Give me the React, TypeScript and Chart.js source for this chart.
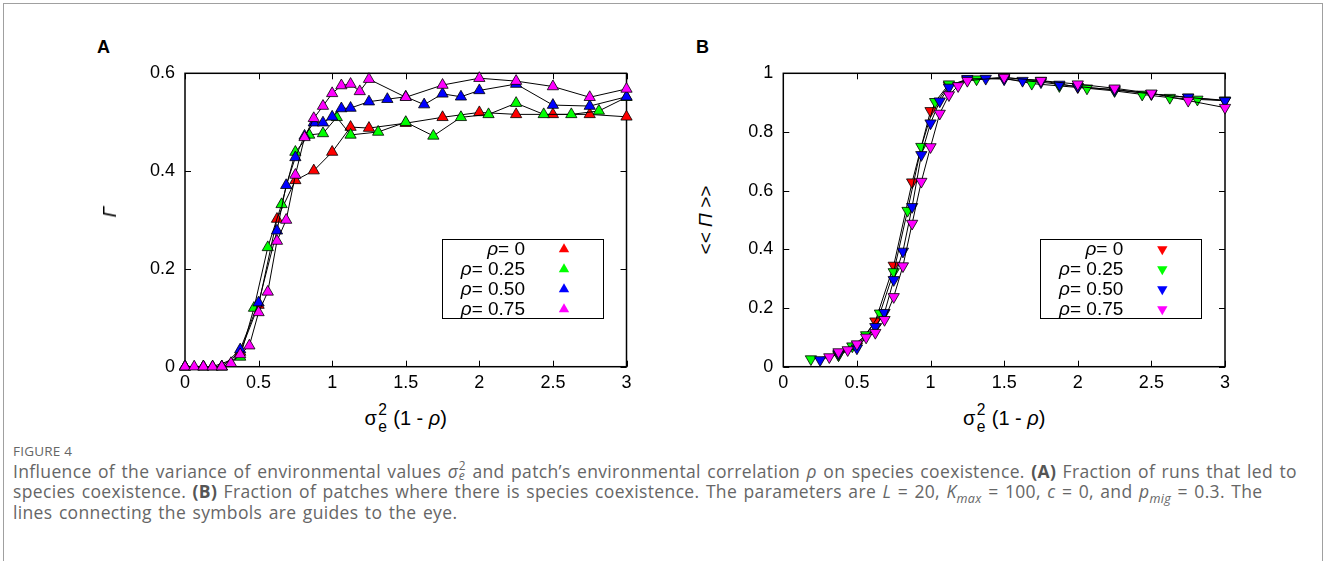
import React, { useEffect, useRef } from 'react';
import { Chart, registerables } from 'chart.js';

Chart.register(...registerables);

// ---------- data ----------
const xTickValues = [0, 0.5, 1, 1.5, 2, 2.5, 3];
const yTickValuesA = [0, 0.2, 0.4, 0.6];
const yTickValuesB = [0, 0.2, 0.4, 0.6, 0.8, 1];
const seriesLabels = ['ρ= 0', 'ρ= 0.25', 'ρ= 0.50', 'ρ= 0.75'];
const seriesColors = ['#ff0000', '#00ff00', '#0000ff', '#ff00ff'];

// Panel A: Γ
const redAX = [0, 0.125, 0.25, 0.375, 0.5, 0.625, 0.75, 0.875, 1.0, 1.125, 1.25, 1.5, 1.75, 2.0, 2.25, 2.5, 2.75, 3.0];
const redAY = [0, 0, 0, 0.03, 0.126, 0.302, 0.381, 0.401, 0.439, 0.49, 0.488, 0.498, 0.51, 0.52, 0.516, 0.516, 0.516, 0.511];

const greenAX = [0, 0.1875, 0.375, 0.46875, 0.5625, 0.65625, 0.75, 0.84375, 0.9375, 1.03125, 1.125, 1.3125, 1.5, 1.6875, 1.875, 2.0625, 2.25, 2.4375, 2.625, 2.8125, 3.0];
const greenAY = [0, 0, 0.02, 0.12, 0.244, 0.332, 0.439, 0.474, 0.477, 0.51, 0.474, 0.48, 0.5, 0.472, 0.51, 0.516, 0.539, 0.516, 0.516, 0.523, 0.551];

const blueAX = [0, 0.125, 0.25, 0.375, 0.5, 0.625, 0.6875, 0.75, 0.8125, 0.875, 0.9375, 1.0, 1.0625, 1.125, 1.25, 1.375, 1.5, 1.625, 1.75, 1.875, 2.0, 2.25, 2.5, 2.75, 3.0];
const blueAY = [0, 0, 0, 0.035, 0.131, 0.278, 0.371, 0.428, 0.472, 0.499, 0.499, 0.511, 0.528, 0.529, 0.542, 0.547, 0.552, 0.536, 0.558, 0.552, 0.565, 0.578, 0.535, 0.533, 0.552];

const magentaAX = [0, 0.0625, 0.125, 0.1875, 0.25, 0.3125, 0.375, 0.4375, 0.5, 0.5625, 0.625, 0.6875, 0.75, 0.8125, 0.875, 0.9375, 1.0, 1.0625, 1.125, 1.1875, 1.25, 1.5, 1.75, 2.0, 2.25, 2.5, 2.75, 3.0];
const magentaAY = [0, 0, 0, 0, 0, 0.007, 0.025, 0.043, 0.111, 0.153, 0.257, 0.3, 0.392, 0.469, 0.508, 0.533, 0.559, 0.575, 0.578, 0.563, 0.588, 0.551, 0.576, 0.59, 0.584, 0.573, 0.551, 0.568];

// Panel B: << Π >>
const redBX = [0.375, 0.5, 0.625, 0.75, 0.875, 1.0, 1.125, 1.25, 1.5, 1.75, 2.0, 2.25, 2.5, 2.75, 3.0];
const redBY = [0.04, 0.07, 0.155, 0.345, 0.629, 0.872, 0.958, 0.98, 0.985, 0.975, 0.953, 0.945, 0.93, 0.918, 0.908];

const greenBX = [0.1875, 0.375, 0.46875, 0.5625, 0.65625, 0.75, 0.84375, 0.9375, 1.03125, 1.125, 1.3125, 1.5, 1.6875, 1.875, 2.0625, 2.25, 2.4375, 2.625, 2.8125, 3.0];
const greenBY = [0.026, 0.04, 0.07, 0.108, 0.182, 0.323, 0.532, 0.75, 0.903, 0.963, 0.98, 0.983, 0.965, 0.957, 0.949, 0.94, 0.928, 0.917, 0.911, 0.907];

const blueBX = [0.25, 0.375, 0.5, 0.625, 0.6875, 0.75, 0.8125, 0.875, 0.9375, 1.0, 1.0625, 1.125, 1.25, 1.375, 1.5, 1.625, 1.75, 1.875, 2.0, 2.25, 2.5, 2.75, 3.0];
const blueBY = [0.023, 0.045, 0.063, 0.136, 0.184, 0.296, 0.393, 0.545, 0.722, 0.83, 0.905, 0.952, 0.981, 0.982, 0.98, 0.975, 0.97, 0.962, 0.955, 0.943, 0.93, 0.918, 0.906];

const magentaBX = [0.3125, 0.375, 0.4375, 0.5, 0.5625, 0.625, 0.6875, 0.75, 0.8125, 0.875, 0.9375, 1.0, 1.0625, 1.125, 1.1875, 1.25, 1.5, 1.75, 2.0, 2.25, 2.5, 2.75, 3.0];
const magentaBY = [0.033, 0.05, 0.057, 0.077, 0.1, 0.116, 0.16, 0.238, 0.343, 0.488, 0.631, 0.749, 0.863, 0.926, 0.957, 0.975, 0.986, 0.975, 0.963, 0.949, 0.932, 0.907, 0.883];

// ---------- styling ----------
const FONT = '"Liberation Sans", Arial, Helvetica, sans-serif';
const CAPTION_FONT = '"Open Sans", "Noto Sans", sans-serif';

const toPoints = (xs: number[], ys: number[]) => xs.map((x, i) => ({ x, y: ys[i] }));

const framePlugin = {
  id: 'gnuFrame',
  beforeDatasetsDraw(chart: any) {
    const { ctx, chartArea: a, scales } = chart;
    ctx.save();
    ctx.strokeStyle = '#000';
    ctx.lineWidth = 1.5;
    ctx.strokeRect(a.left, a.top, a.right - a.left, a.bottom - a.top);
    ctx.lineWidth = 1;
    const tl = 6;
    ctx.beginPath();
    scales.x.ticks.forEach((t: any) => {
      const px = Math.round(scales.x.getPixelForValue(t.value)) + 0.5;
      ctx.moveTo(px, a.bottom);
      ctx.lineTo(px, a.bottom - tl);
      ctx.moveTo(px, a.top);
      ctx.lineTo(px, a.top + tl);
    });
    scales.y.ticks.forEach((t: any) => {
      const py = Math.round(scales.y.getPixelForValue(t.value)) + 0.5;
      ctx.moveTo(a.left, py);
      ctx.lineTo(a.left + tl, py);
      ctx.moveTo(a.right, py);
      ctx.lineTo(a.right - tl, py);
    });
    ctx.stroke();
    ctx.restore();
  },
};

const legendPlugin = {
  id: 'gnuLegend',
  afterDatasetsDraw(chart: any, _args: any, opts: any) {
    if (!opts || !opts.enabled) return;
    const { ctx, chartArea: a } = chart;
    ctx.save();
    ctx.strokeStyle = '#000';
    ctx.lineWidth = 1;
    ctx.strokeRect(Math.round(a.left + opts.boxLeft) + 0.5, Math.round(a.top + opts.boxTop) + 0.5, opts.boxW, opts.boxH);
    chart.data.datasets.forEach((ds: any, i: number) => {
      const y = a.top + opts.rowTop + i * opts.rowStep;
      const label: string = ds.label;
      const rho = label.slice(0, 1);
      const rest = label.slice(1);
      const right = a.left + opts.textRight;
      ctx.textBaseline = 'middle';
      ctx.textAlign = 'left';
      ctx.fillStyle = '#000';
      ctx.font = `19px ${FONT}`;
      const restW = ctx.measureText(rest).width;
      ctx.fillText(rest, right - restW, y);
      ctx.font = `italic 19px ${FONT}`;
      const rhoW = ctx.measureText(rho).width;
      ctx.fillText(rho, right - restW - rhoW, y);
      const mx = a.left + opts.markerX;
      const r = 6;
      const dir = opts.inverted ? -1 : 1;
      ctx.beginPath();
      ctx.moveTo(mx, y - dir * r);
      ctx.lineTo(mx + r * 0.866, y + dir * r * 0.5);
      ctx.lineTo(mx - r * 0.866, y + dir * r * 0.5);
      ctx.closePath();
      ctx.fillStyle = ds.pointBackgroundColor;
      ctx.fill();
    });
    ctx.restore();
  },
};

type PanelProps = {
  left: number;
  top: number;
  width: number;
  height: number;
  series: { x: number[]; y: number[] }[];
  yMax: number;
  yTicks: number[];
  inverted: boolean;
  yAxisWidth: number;
  padTop: number;
  padRight: number;
  xAxisHeight: number;
  legend: any;
};

function Panel(p: PanelProps) {
  const ref = useRef<HTMLCanvasElement | null>(null);
  useEffect(() => {
    if (!ref.current) return;
    const datasets = p.series.map((s, i) => ({
      label: seriesLabels[i],
      data: toPoints(s.x, s.y),
      showLine: true,
      borderColor: '#000',
      borderWidth: 1,
      pointBackgroundColor: seriesColors[i],
      pointBorderColor: '#000',
      pointBorderWidth: 0.8,
      pointStyle: 'triangle',
      pointRadius: 6.5,
      pointHoverRadius: 6.5,
      pointRotation: p.inverted ? 180 : 0,
      clip: false,
      order: p.series.length - i,
      tension: 0,
    }));
    const tickFont = { family: FONT, size: 18 };
    const chart = new Chart(ref.current, {
      type: 'scatter',
      data: { datasets } as any,
      options: {
        animation: false,
        responsive: false,
        maintainAspectRatio: false,
        events: [],
        layout: { padding: { top: p.padTop, right: p.padRight, left: 0, bottom: 0 } },
        plugins: {
          legend: { display: false },
          tooltip: { enabled: false },
          gnuLegend: p.legend,
        } as any,
        scales: {
          x: {
            type: 'linear',
            min: 0,
            max: 3,
            afterBuildTicks: (s: any) => {
              s.ticks = xTickValues.map((v) => ({ value: v }));
            },
            afterFit: (s: any) => {
              s.height = p.xAxisHeight;
              s.paddingLeft = 0;
              s.paddingRight = 0;
              s.paddingTop = 0;
              s.paddingBottom = 0;
            },
            grid: { display: false, drawTicks: false },
            border: { display: false },
            ticks: {
              color: '#000',
              font: tickFont,
              padding: 6,
              maxRotation: 0,
              autoSkip: false,
              callback: (v: any) => String(v),
            },
          },
          y: {
            type: 'linear',
            min: 0,
            max: p.yMax,
            afterBuildTicks: (s: any) => {
              s.ticks = p.yTicks.map((v) => ({ value: v }));
            },
            afterFit: (s: any) => {
              s.width = p.yAxisWidth;
              s.paddingLeft = 0;
              s.paddingRight = 0;
              s.paddingTop = 0;
              s.paddingBottom = 0;
            },
            grid: { display: false, drawTicks: false },
            border: { display: false },
            ticks: {
              color: '#000',
              font: tickFont,
              padding: 10,
              autoSkip: false,
              callback: (v: any) => String(v),
            },
          },
        },
      } as any,
      plugins: [framePlugin, legendPlugin],
    });
    return () => chart.destroy();
  }, []);
  return (
    <canvas
      ref={ref}
      width={p.width}
      height={p.height}
      style={{ position: 'absolute', left: p.left, top: p.top, width: p.width, height: p.height }}
    />
  );
}

function SigmaE({ sub = 'e', sup = '2', scale = 0.78 }: { sub?: string; sup?: string; scale?: number }) {
  return (
    <span>
      σ
      <span style={{ display: 'inline-block', position: 'relative', width: '0.55em', height: '1em' }}>
        <span style={{ position: 'absolute', left: '0.1em', bottom: '0.45em', fontSize: `${scale}em`, lineHeight: 1 }}>{sup}</span>
        <span style={{ position: 'absolute', left: '0.1em', top: '0.9em', fontSize: `${scale}em`, lineHeight: 1 }}>{sub}</span>
      </span>
    </span>
  );
}

function XTitle({ cx }: { cx: number }) {
  return (
    <div
      style={{
        position: 'absolute',
        left: cx,
        top: 405,
        transform: 'translateX(-50%)',
        fontFamily: FONT,
        fontSize: 20,
        lineHeight: '20px',
        whiteSpace: 'nowrap',
        color: '#000',
      }}
    >
      <SigmaE /> (1 - <i>ρ</i>)
    </div>
  );
}

const capLine: React.CSSProperties = {
  position: 'absolute',
  left: 13,
  whiteSpace: 'nowrap',
  fontFamily: CAPTION_FONT,
  fontSize: 17.5,
  lineHeight: '21px',
  letterSpacing: 0.35,
  wordSpacing: 1.5,
  color: '#666',
};

function CapSigma() {
  return (
    <span>
      <i>σ</i>
      <span style={{ display: 'inline-block', position: 'relative', width: '0.45em', height: '1em' }}>
        <span style={{ position: 'absolute', left: '0.05em', bottom: '0.45em', fontSize: '0.68em', lineHeight: 1 }}>2</span>
        <i style={{ position: 'absolute', left: '0.05em', top: '0.85em', fontSize: '0.68em', lineHeight: 1 }}>e</i>
      </span>
    </span>
  );
}

export default function App() {
  return (
    <div
      style={{
        position: 'absolute',
        left: 0,
        top: 0,
        width: 1327,
        height: 561,
        background: '#fff',
        overflow: 'hidden',
      }}
    >
      <div style={{ position: 'absolute', left: 3, top: 3, width: 1318, height: 640, border: '1px solid #a0a0a0' }} />

      <div style={{ position: 'absolute', left: 97, top: 38, fontFamily: FONT, fontWeight: 'bold', fontSize: 18, lineHeight: '18px' }}>A</div>
      <div style={{ position: 'absolute', left: 696, top: 38, fontFamily: FONT, fontWeight: 'bold', fontSize: 18, lineHeight: '18px' }}>B</div>

      <Panel
        left={120}
        top={60}
        width={520}
        height={340}
        series={[
          { x: redAX, y: redAY },
          { x: greenAX, y: greenAY },
          { x: blueAX, y: blueAY },
          { x: magentaAX, y: magentaAY },
        ]}
        yMax={0.6}
        yTicks={yTickValuesA}
        inverted={false}
        yAxisWidth={65}
        padTop={13.3}
        padRight={13.5}
        xAxisHeight={33.3}
        legend={{ enabled: true, boxLeft: 257, boxTop: 166, boxW: 161, boxH: 79, textRight: 340, markerX: 379, rowTop: 176, rowStep: 20, inverted: false }}
      />
      <Panel
        left={720}
        top={60}
        width={520}
        height={340}
        series={[
          { x: redBX, y: redBY },
          { x: greenBX, y: greenBY },
          { x: blueBX, y: blueBY },
          { x: magentaBX, y: magentaBY },
        ]}
        yMax={1}
        yTicks={yTickValuesB}
        inverted={true}
        yAxisWidth={63.3}
        padTop={13.3}
        padRight={15}
        xAxisHeight={33.3}
        legend={{ enabled: true, boxLeft: 257, boxTop: 166, boxW: 161, boxH: 79, textRight: 340, markerX: 379, rowTop: 176, rowStep: 20, inverted: true }}
      />

      <div
        style={{
          position: 'absolute',
          left: 110,
          top: 212,
          transform: 'translate(-50%, -50%) rotate(-90deg)',
          fontFamily: FONT,
          fontSize: 19,
          fontStyle: 'italic',
          whiteSpace: 'nowrap',
        }}
      >
        Γ
      </div>
      <div
        style={{
          position: 'absolute',
          left: 706,
          top: 220,
          transform: 'translate(-50%, -50%) rotate(-90deg)',
          fontFamily: FONT,
          fontSize: 19,
          whiteSpace: 'nowrap',
        }}
      >
        {'<< '}
        <i>Π</i>
        {' >>'}
      </div>

      <XTitle cx={405.7} />
      <XTitle cx={1004.2} />

      <div style={{ ...capLine, top: 444, fontSize: 13.5, lineHeight: '15px', letterSpacing: 0.2, wordSpacing: 0 }}>FIGURE 4</div>
      <div style={{ ...capLine, top: 460 }}>
        Influence of the variance of environmental values <CapSigma /> and patch’s environmental correlation <i>ρ</i> on species coexistence.{' '}
        <b style={{ color: '#555' }}>(A)</b> Fraction of runs that led to
      </div>
      <div style={{ ...capLine, top: 481 }}>
        species coexistence. <b style={{ color: '#555' }}>(B)</b> Fraction of patches where there is species coexistence. The parameters are{' '}
        <i>L</i> = 20, <i>K</i>
        <sub style={{ fontSize: '0.72em', fontStyle: 'italic', lineHeight: 0 }}>max</sub> = 100, <i>c</i> = 0, and <i>p</i>
        <sub style={{ fontSize: '0.72em', fontStyle: 'italic', lineHeight: 0 }}>mig</sub> = 0.3. The
      </div>
      <div style={{ ...capLine, top: 502 }}>lines connecting the symbols are guides to the eye.</div>
    </div>
  );
}
